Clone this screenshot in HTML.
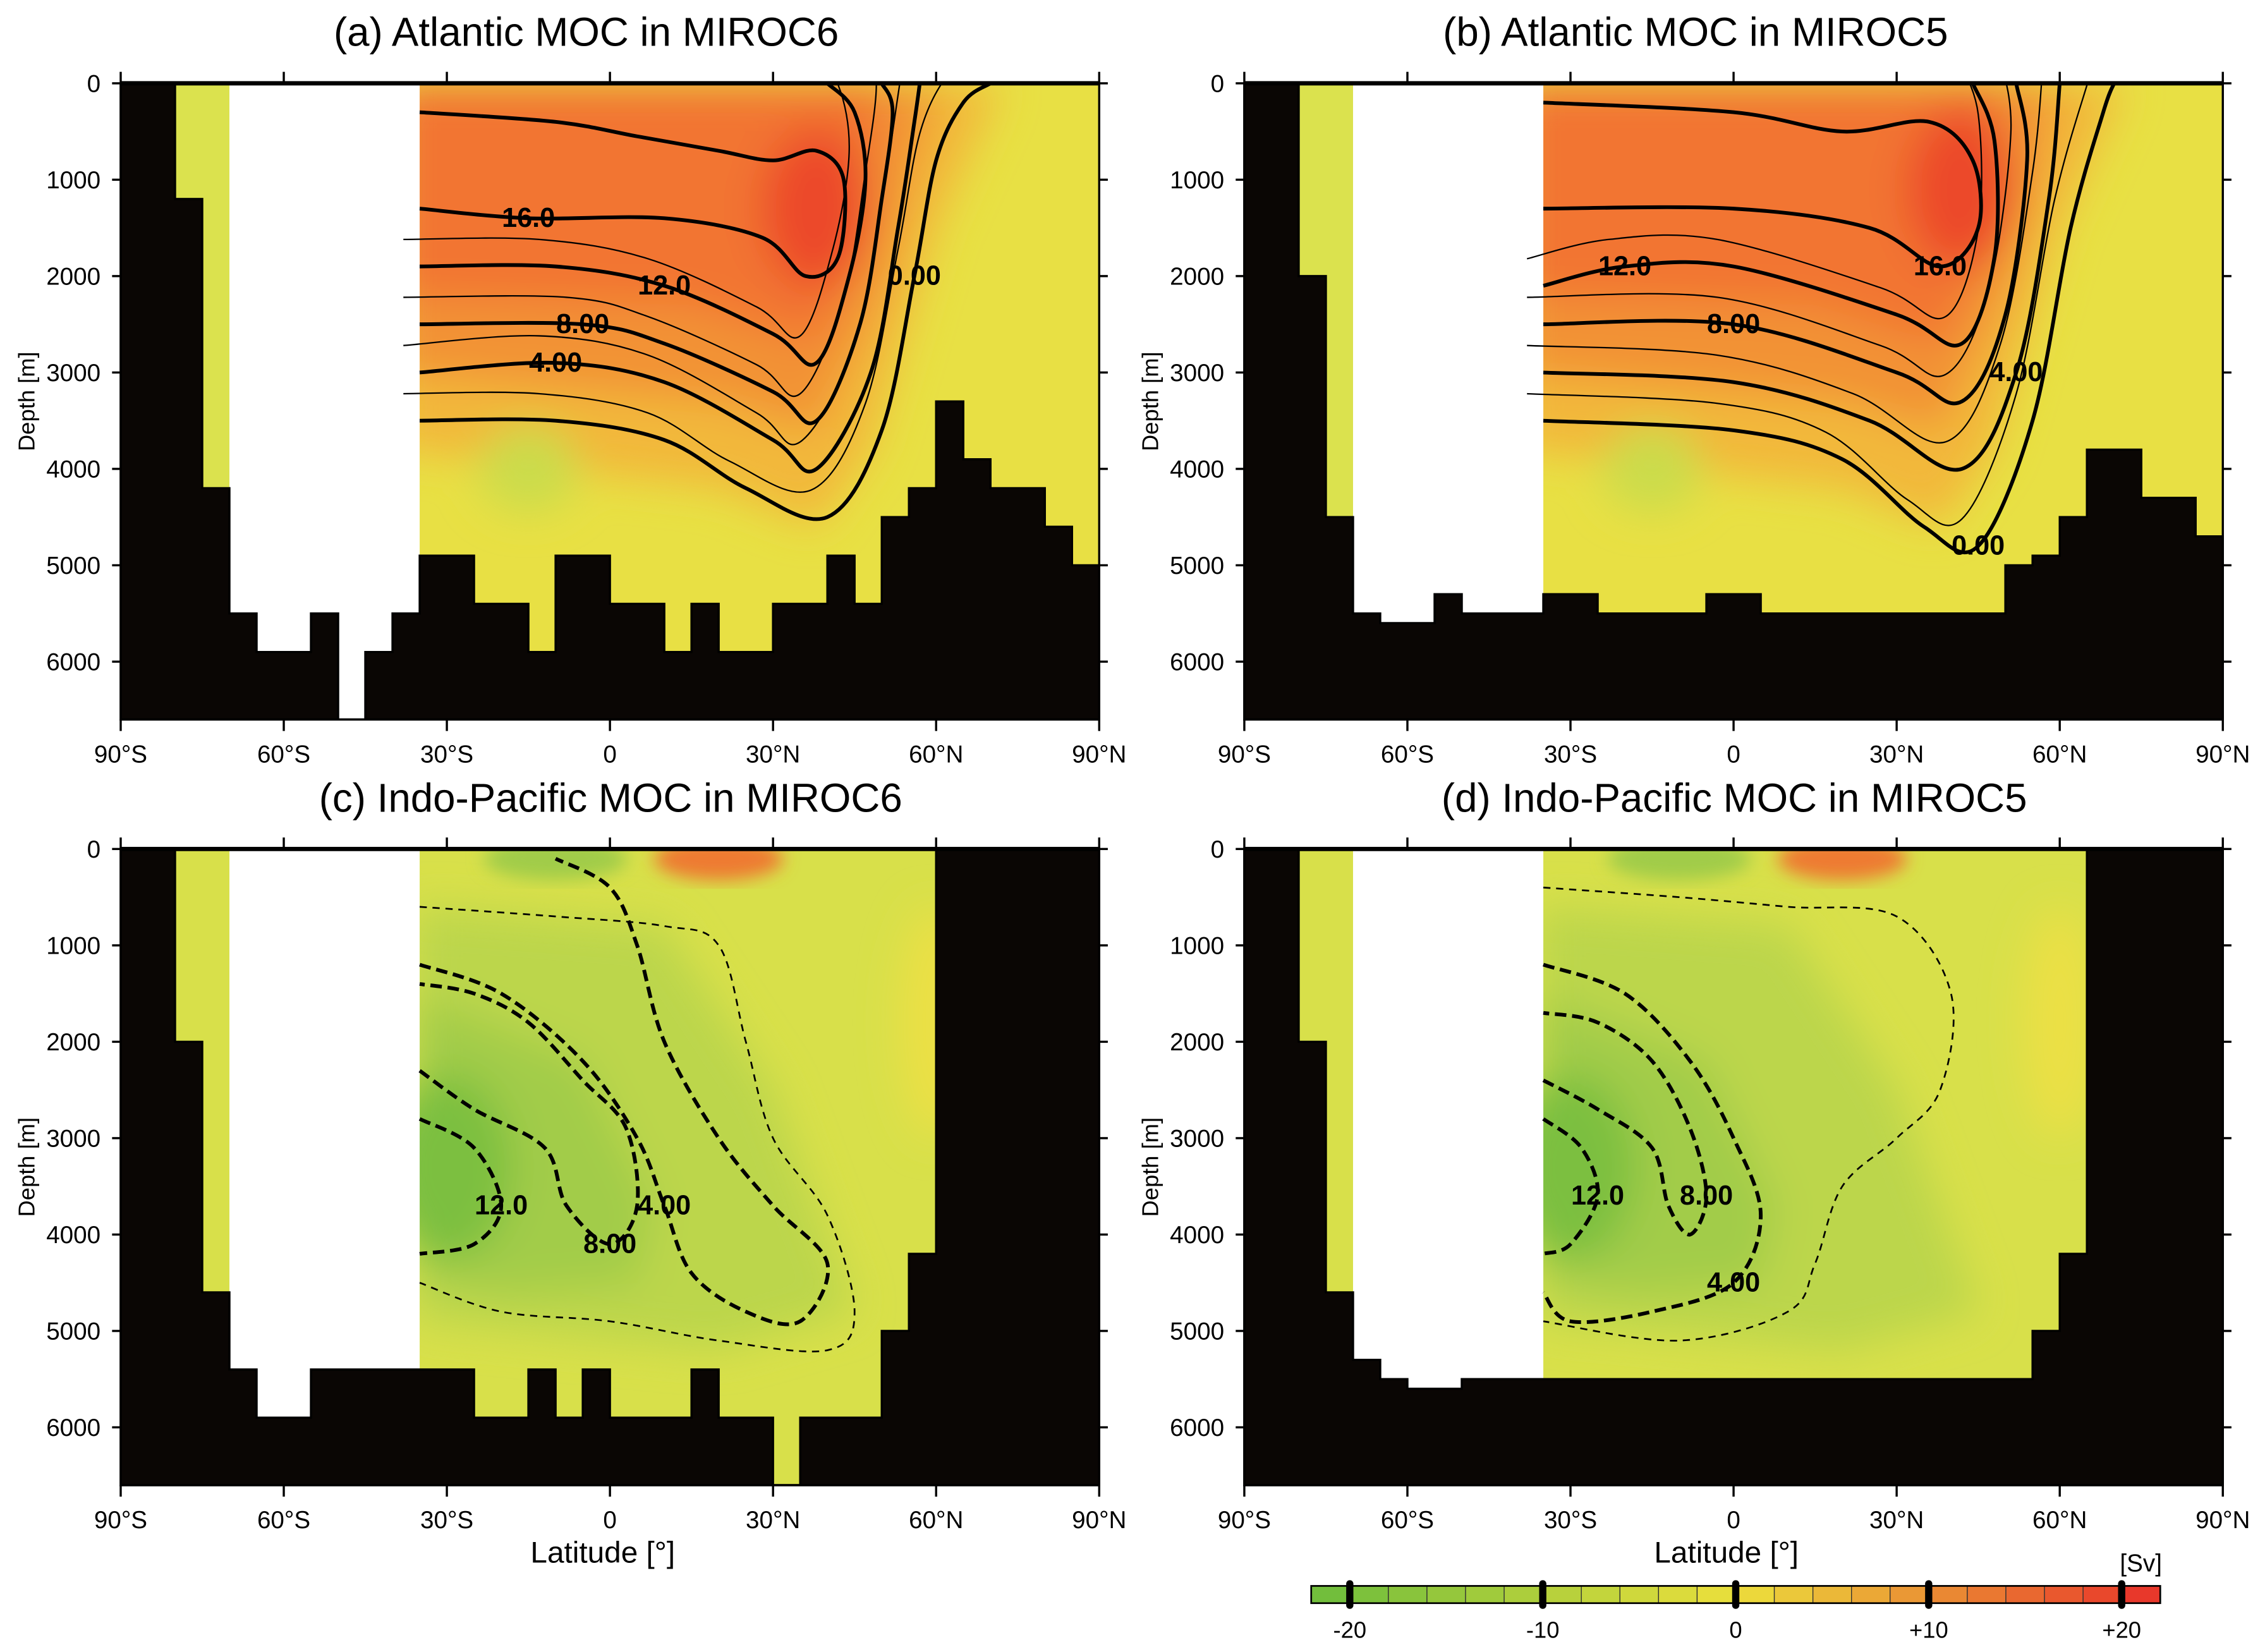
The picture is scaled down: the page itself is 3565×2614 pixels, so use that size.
<!DOCTYPE html>
<html><head><meta charset="utf-8"><style>
html,body{margin:0;padding:0;background:#fff}
svg{display:block}
text{font-family:"Liberation Sans",sans-serif;fill:#000}
</style></head><body>
<svg id="fig" xmlns="http://www.w3.org/2000/svg" width="3565" height="2614" viewBox="0 0 1568 1150" preserveAspectRatio="none">
<defs>
<filter id="blur" x="-20%" y="-20%" width="140%" height="140%"><feGaussianBlur stdDeviation="14"/></filter>
<filter id="blur2" x="-20%" y="-20%" width="140%" height="140%"><feGaussianBlur stdDeviation="6"/></filter>
</defs>
</svg>
<script>
// ---- data ----
const binLats = [-90,-85,-80,-75,-70,-65,-60,-55,-50,-45,-40,-35,-30,-25,-20,-15,-10,-5,0,5,10,15,20,25,30,35,40,45,50,55,60,65,70,75,80,85];
const topoA = [0,0,1200,4200,5500,5900,5900,5500,6600,5900,5500,4900,4900,5400,5400,5900,4900,4900,5400,5400,5900,5400,5900,5900,5400,5400,4900,5400,4500,4200,3300,3900,4200,4200,4600,5000];
const topoB = [0,0,2000,4500,5500,5600,5600,5300,5500,5500,5500,5300,5300,5500,5500,5500,5500,5300,5300,5500,5500,5500,5500,5500,5500,5500,5500,5500,5000,4900,4500,3800,3800,4300,4300,4700];
const topoC = [0,0,2000,4600,5400,5900,5900,5400,5400,5400,5400,5400,5400,5900,5900,5400,5900,5400,5900,5900,5900,5400,5900,5900,6600,5900,5900,5900,5000,4200,0,0,0,0,0,0];
const topoD = [0,0,2000,4600,5300,5500,5600,5600,5500,5500,5500,5500,5500,5500,5500,5500,5500,5500,5500,5500,5500,5500,5500,5500,5500,5500,5500,5500,5500,5000,4200,0,0,0,0,0];
const depthTicks = [0,1000,2000,3000,4000,5000,6000];
const latTicks = [-90,-60,-30,0,30,60,90];
const latTickLabels = ["90°S","60°S","30°S","0","30°N","60°N","90°N"];
const cbLevels = [-22,-20,-18,-16,-14,-12,-10,-8,-6,-4,-2,0,2,4,6,8,10,12,14,16,18,20,22];
const cbTicks = [-20,-10,0,10,20];
const cbTickLabels = ["-20","-10","0","+10","+20"];
// contour lines: [level, labelIndex, [lat,depth]...]
const contA = [
 [0,6,[[-35,3500],[-10,3500],[10,3700],[25,4200],[40,4500],[50,3600],[56,2000],[60,800],[65,200],[70,0]]],
 [4,1,[[-35,3000],[-10,2900],[10,3100],[30,3700],[38,4000],[48,3000],[53,1500],[56,400],[57,0]]],
 [8,1,[[-35,2500],[-5,2500],[10,2700],[30,3200],[38,3500],[46,2500],[50,1200],[52,300],[50,0]]],
 [12,2,[[-35,1900],[-10,1900],[10,2100],[30,2600],[38,2900],[44,2000],[47,1000],[45,300],[40,0]]],
 [16,1,[[-35,1300],[-15,1400],[10,1400],[28,1600],[36,2000],[42,1800],[43,1000],[38,700],[30,800],[20,700],[5,550],[-10,400],[-35,300]]]
];
const contB = [
 [0,4,[[-35,3500],[0,3600],[20,3900],[35,4600],[45,4800],[55,3500],[62,1500],[68,300],[70,0]]],
 [4,4,[[-35,3000],[0,3100],[25,3500],[42,4000],[52,3000],[58,1200],[60,0]]],
 [8,1,[[-35,2500],[0,2500],[30,3000],[42,3300],[50,2400],[54,800],[52,0]]],
 [12,1,[[-35,2100],[-20,1900],[0,1900],[30,2400],[42,2700],[48,1800],[48,600],[44,0]]],
 [16,3,[[-35,1300],[0,1300],[25,1500],[38,1900],[45,1500],[44,800],[36,400],[20,500],[0,300],[-35,200]]]
];
const contC = [
 [-4,4,[[-35,1200],[-20,1500],[-5,2200],[5,3000],[10,3700],[15,4400],[25,4800],[35,4900],[40,4300],[30,3700],[20,3000],[10,2000],[5,1000],[0,400],[-10,100]]],
 [-8,4,[[-35,2300],[-25,2700],[-12,3100],[-8,3700],[0,4100],[5,3700],[3,2900],[-5,2400],[-15,1800],[-25,1500],[-35,1400]]],
 [-12,2,[[-35,2800],[-25,3100],[-20,3700],[-25,4100],[-35,4200]]],
 [-2,3,[[-35,600],[-10,700],[10,800],[20,1000],[25,2000],[30,3000],[40,3800],[45,4800],[40,5200],[20,5100],[0,4900],[-20,4800],[-35,4500]]]
];
const contD = [
 [-4,5,[[-35,1200],[-20,1500],[-8,2200],[0,3000],[5,3800],[0,4500],[-15,4800],[-30,4900],[-35,4600]]],
 [-8,5,[[-35,2400],[-25,2700],[-15,3100],[-12,3700],[-8,4000],[-5,3600],[-8,2900],[-15,2200],[-25,1800],[-35,1700]]],
 [-12,2,[[-35,2800],[-28,3100],[-25,3600],[-30,4100],[-35,4200]]],
 [-2,3,[[-35,400],[-10,500],[10,600],[30,700],[40,1500],[38,2500],[30,3000],[20,3500],[15,4300],[10,4800],[-10,5100],[-35,4900]]]
];
// ---- build ----
const NS="http://www.w3.org/2000/svg";
const svg=document.getElementById('fig');
function mk(tag,attrs,parent){const e=document.createElementNS(NS,tag);for(const k in attrs)e.setAttribute(k,attrs[k]);(parent||svg).appendChild(e);return e;}
function smooth(P){
 let d='M'+P[0][0]+' '+P[0][1];
 for(let i=0;i<P.length-1;i++){
  const p0=P[Math.max(i-1,0)],p1=P[i],p2=P[i+1],p3=P[Math.min(i+2,P.length-1)];
  const c1=[p1[0]+(p2[0]-p0[0])/6,p1[1]+(p2[1]-p0[1])/6];
  const c2=[p2[0]-(p3[0]-p1[0])/6,p2[1]-(p3[1]-p1[1])/6];
  d+=' C'+c1[0]+' '+c1[1]+' '+c2[0]+' '+c2[1]+' '+p2[0]+' '+p2[1];
 }
 return d;
}
const panels=[
 {x0:84,y0:58,title:"(a) Atlantic MOC in MIROC6",tx:408,topo:topoA,cont:contA,kind:"atl",core:[38,1300],name:"panel-a"},
 {x0:866,y0:58,title:"(b) Atlantic MOC in MIROC5",tx:1180,topo:topoB,cont:contB,kind:"atl",core:[42,1100],name:"panel-b"},
 {x0:84,y0:591,title:"(c) Indo-Pacific MOC in MIROC6",tx:425,topo:topoC,cont:contC,kind:"pac",core:[-30,3300],name:"panel-c"},
 {x0:866,y0:591,title:"(d) Indo-Pacific MOC in MIROC5",tx:1207,topo:topoD,cont:contD,kind:"pac",core:[-30,3300],name:"panel-d"}
];
const PW=681, KD=0.0671, DMAX=6600;
panels.forEach((p,i)=>{
 const xs=l=>p.x0+(l+90)*PW/180, ys=d=>p.y0+d*KD;
 const g=mk('g',{});
 
 
 const cid='clip'+i;
 const cp=mk('clipPath',{id:cid},g);mk('rect',{x:p.x0,y:p.y0,width:PW,height:DMAX*KD},cp);
 const field=mk('g',{'clip-path':'url(#'+cid+')'},g);
 
 
 const pts=c=>c.map(q=>xs(q[0])+','+ys(q[1])).join(' ');
 if(p.kind==="atl"){
  mk('rect',{x:p.x0,y:p.y0,width:PW,height:DMAX*KD,fill:'#e8e044'},field);
  mk('rect',{x:p.x0,y:p.y0,width:xs(-35)-p.x0,height:DMAX*KD,fill:'#dbe24e'},field);
  const b=mk('g',{filter:'url(#blur)'},field);
  mk('polygon',{points:pts([[-40,0],[72,0],[60,1500],[48,3800],[38,4600],[20,4200],[-40,3800]]),fill:'#f2b83a'},b);
  mk('polygon',{points:pts([[-40,0],[60,0],[50,2200],[38,3600],[20,3300],[-40,3000]]),fill:'#f29234'},b);
  mk('polygon',{points:pts([[-40,0],[50,0],[46,1800],[38,2700],[15,2300],[-40,2200]]),fill:'#f27430'},b);
  mk('ellipse',{cx:xs(p.core[0]),cy:ys(p.core[1]),rx:38,ry:55,fill:'#ec4a2c'},b);
  mk('ellipse',{cx:xs(-15),cy:ys(4000),rx:35,ry:30,fill:'#cbdc4c'},b);
 } else {
  mk('rect',{x:p.x0,y:p.y0,width:PW,height:DMAX*KD,fill:'#d8e04a'},field);
  const b=mk('g',{filter:'url(#blur)'},field);
  mk('polygon',{points:pts([[-36,600],[10,800],[30,2500],[45,4800],[20,5200],[-36,4900]]),fill:'#bcd64c'},b);
  mk('polygon',{points:pts([[-36,1500],[-5,2200],[8,3700],[5,4500],[-20,4600],[-36,4400]]),fill:'#a2cc48'},b);
  mk('ellipse',{cx:xs(p.core[0]),cy:ys(p.core[1]),rx:45,ry:65,fill:'#7cbf40'},b);
  mk('ellipse',{cx:xs(60),cy:ys(1800),rx:25,ry:80,fill:'#ece044'},b);
  const b2=mk('g',{filter:'url(#blur2)'},field);
  mk('ellipse',{cx:xs(20),cy:ys(100),rx:45,ry:15,fill:'#ee7a32'},b2);
  mk('ellipse',{cx:xs(-10),cy:ys(100),rx:50,ry:15,fill:'#a0cc48'},b2);
 }
 const wh=mk('rect',{x:xs(-70),y:p.y0,width:xs(-35)-xs(-70),height:DMAX*KD,fill:'#fff'},g);
 
 
 const cg=mk('g',{'clip-path':'url(#'+cid+')',fill:'none',stroke:'#000','stroke-linejoin':'round'},g);
 const lg=mk('g',{},g);
 p.cont.forEach(c=>{
  const lv=c[0], li=c[1], P=c[2].map(q=>[xs(q[0]),ys(q[1])]);
  const thick=(lv%4===0);
  const pa=mk('path',{d:smooth(P),'stroke-width':thick?2.6:1.2},cg);
  if(lv<0)pa.setAttribute('stroke-dasharray',thick?'8 4':'5 4');
  
  
  if(p.kind==="atl"&&lv<16){
   const P2=c[2].map(q=>[xs(q[0]-3),ys(q[1]-280)]);
   const pb=mk('path',{d:smooth(P2),'stroke-width':1},cg);
   
   
  }
  if(thick){
   const q=P[li];
   const t=mk('text',{x:q[0],y:q[1]+6,'font-size':19,'font-weight':'bold','text-anchor':'middle'},lg);
   t.textContent=Math.abs(lv)>=10?Math.abs(lv).toFixed(1):Math.abs(lv).toFixed(2);
   
   
  }
 });
 let dpath='M'+xs(-90)+' '+ys(DMAX);
 binLats.forEach((l,k)=>{dpath+=' L'+xs(l)+' '+ys(p.topo[k])+' L'+xs(l+5)+' '+ys(p.topo[k]);});
 dpath+=' L'+xs(90)+' '+ys(DMAX)+' Z';
 const tp=mk('path',{d:dpath,fill:'#0a0604',stroke:'#000','stroke-width':1.5},g);
 
 
 const fr=mk('rect',{x:p.x0,y:p.y0,width:PW,height:DMAX*KD,fill:'none',stroke:'#000','stroke-width':1.5},g);
 
 
 mk('line',{x1:p.x0,x2:p.x0+PW,y1:p.y0,y2:p.y0,stroke:'#000','stroke-width':3},g);
 depthTicks.forEach(d=>{
  mk('line',{x1:p.x0-6,x2:p.x0,y1:ys(d),y2:ys(d),stroke:'#000','stroke-width':1.5},g);
  mk('line',{x1:p.x0+PW,x2:p.x0+PW+6,y1:ys(d),y2:ys(d),stroke:'#000','stroke-width':1.5},g);
  const t=mk('text',{x:p.x0-14,y:ys(d)+6,'font-size':17,'text-anchor':'end'},g);
  t.textContent=d;
  
  
 });
 latTicks.forEach((l,k)=>{
  mk('line',{x1:xs(l),x2:xs(l),y1:p.y0-8,y2:p.y0,stroke:'#000','stroke-width':1.5},g);
  mk('line',{x1:xs(l),x2:xs(l),y1:ys(DMAX),y2:ys(DMAX)+8,stroke:'#000','stroke-width':1.5},g);
  const t=mk('text',{x:xs(l),y:ys(DMAX)+30,'font-size':17,'text-anchor':'middle'},g);
  t.textContent=latTickLabels[k];
  
  
 });
 const ti=mk('text',{x:p.tx,y:p.y0-26,'font-size':28,'text-anchor':'middle'},g);
 ti.textContent=p.title;
 
 
 const yl=mk('text',{x:0,y:0,'font-size':16,'text-anchor':'middle',transform:'translate('+(p.x0-60)+','+ys(3300)+') rotate(-90)'},g);
 yl.textContent="Depth [m]";
 
 
 if(i>=2){
  const xl=mk('text',{x:xs(0)-5,y:ys(DMAX)+54,'font-size':21,'text-anchor':'middle'},g);
  xl.textContent="Latitude [°]";
  
  
 }
});
const cb=mk('g',{});


const cx=v=>1208+v*13.43;
function col(v){const t=v/22;let a,b,f;if(t<0){a=[236,224,60];b=[108,188,60];f=-t;}else{a=[236,224,60];b=[232,48,42];f=t;}
 return 'rgb('+a.map((x,j)=>Math.round(x+(b[j]-x)*f)).join(',')+')';}
for(let k=0;k<cbLevels.length-1;k++){
 const r=mk('rect',{x:cx(cbLevels[k]),y:1104,width:cx(cbLevels[k+1])-cx(cbLevels[k]),height:12,fill:col((cbLevels[k]+cbLevels[k+1])/2),stroke:'#333','stroke-width':0.6},cb);
 
 
}
mk('rect',{x:cx(-22),y:1104,width:cx(22)-cx(-22),height:12,fill:'none',stroke:'#000','stroke-width':1.2},cb);
cbTicks.forEach((v,k)=>{
 mk('rect',{x:cx(v)-2.5,y:1100,width:5,height:20,rx:2.5,fill:'#000'},cb);
 const t=mk('text',{x:cx(v),y:1140,'font-size':16,'text-anchor':'middle'},cb);
 t.textContent=cbTickLabels[k];
 
 
});
const sv=mk('text',{x:1490,y:1094,'font-size':17,'text-anchor':'middle'},cb);
sv.textContent="[Sv]";


</script>
</body></html>
